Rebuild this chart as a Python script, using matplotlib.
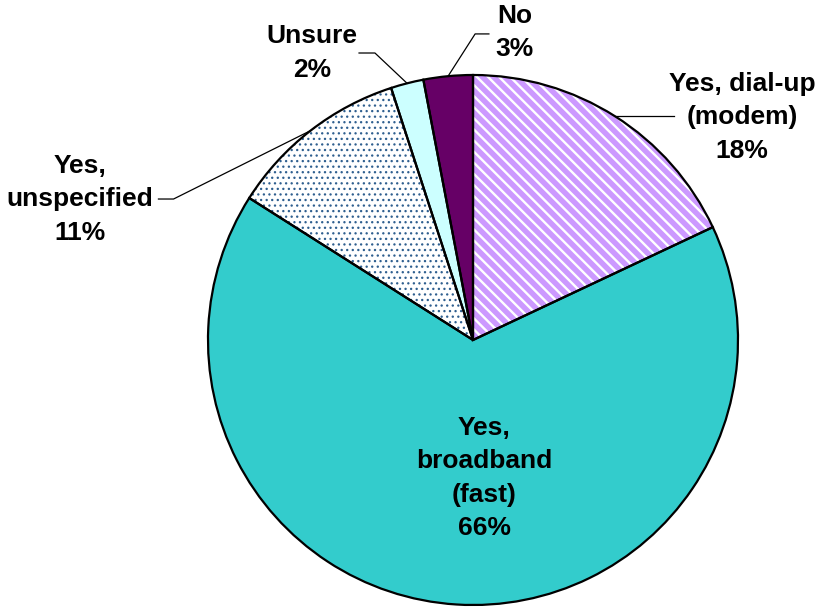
import numpy as np
import matplotlib
matplotlib.use("Agg")
import matplotlib.pyplot as plt
from matplotlib.patches import Wedge

# Internet access at home: share of respondents
labels = ["Yes, dial-up\n(modem)", "Yes,\nbroadband\n(fast)", "Yes,\nunspecified", "Unsure", "No"]
shares = [18, 66, 11, 2, 3]
colors = ["#CC99FF", "#33CCCC", "#FFFFFF", "#CCFFFF", "#660066"]

# label centres and leader elbows, in units of the pie radius
label_pos = [(1.015, 0.84), (0.042, -0.52), (-1.483, 0.532), (-0.607, 1.083), (0.158, 1.16)]
elbows = [None, None, (-1.13, 0.532), (-0.37, 1.083), (0.008, 1.155)]
label_ends = [(0.76, None), None, (-1.187, 0.532), (-0.43, 1.083), (0.06, 1.155)]

plt.rcParams['font.family'] = ['Liberation Sans', 'DejaVu Sans']

W, H = 833, 607
fig = plt.figure(figsize=(W / 100, H / 100), dpi=100)
ax = fig.add_axes([0, 0, 1, 1])
cx, cy, R = 473, 340, 265

wedges, _ = ax.pie(shares, colors=colors, startangle=90, counterclock=False,
                   radius=1, wedgeprops=dict(edgecolor='none', linewidth=0))

ax.set_xlim(-cx / R, (W - cx) / R)
ax.set_ylim((cy - H) / R, cy / R)
ax.set_aspect('equal')
ax.axis('off')

# textures: white stripes on the dial-up slice, blue dots on the unspecified slice
textures = {0: ('\\\\\\', 'white', 1.7), 2: ('...', '#2F5F8F', 0.9)}
for i, (hatch, hc, hlw) in textures.items():
    w = wedges[i]
    plt.rcParams['hatch.linewidth'] = hlw
    ov = Wedge((0, 0), 1, w.theta1, w.theta2, facecolor='none', edgecolor=hc,
               linewidth=0, hatch=hatch, zorder=2)
    ax.add_patch(ov)

# black outlines on top
for w in wedges:
    ax.add_patch(Wedge((0, 0), 1, w.theta1, w.theta2, facecolor='none',
                       edgecolor='black', linewidth=1.6, zorder=3))

for i, (lab, s) in enumerate(zip(labels, shares)):
    tx, ty = label_pos[i]
    ax.text(tx, ty, f"{lab}\n{s}%", ha='center', va='center', fontsize=19,
            fontweight='bold', linespacing=1.5, zorder=4)
    if i == 1:
        continue
    w = wedges[i]
    mid = np.deg2rad((w.theta1 + w.theta2) / 2)
    ex, ey = np.cos(mid), np.sin(mid)
    if elbows[i] is None:
        xs, ys = [ex, label_ends[i][0]], [ey, ey]
    else:
        xs = [ex, elbows[i][0], label_ends[i][0]]
        ys = [ey, elbows[i][1], label_ends[i][1]]
    ax.plot(xs, ys, color='black', linewidth=0.9, zorder=1.5)

fig.savefig("out.png", dpi=100)
